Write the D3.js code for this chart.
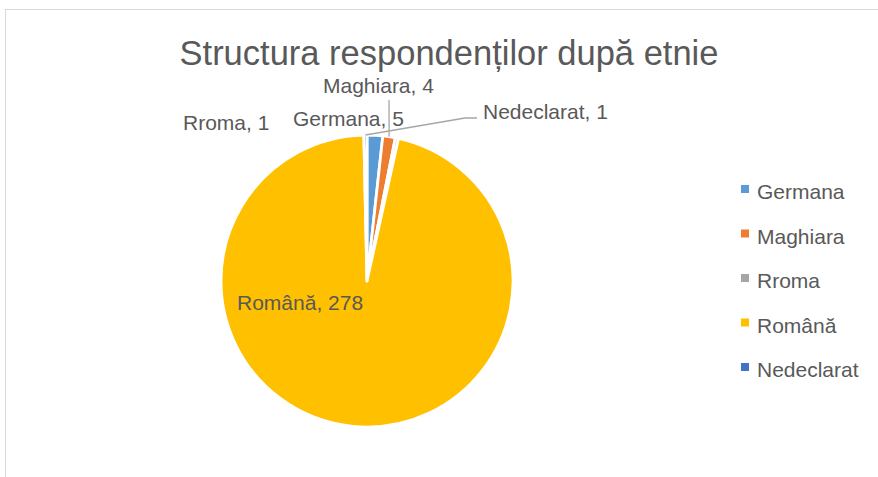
<!DOCTYPE html>
<html>
<head>
<meta charset="utf-8">
<script src="https://cdn.jsdelivr.net/npm/d3@7"></script>
<style>
  body { margin: 0; background: #fff; }
  text { font-family: "Liberation Sans", Arial, sans-serif; fill: #595959; }
</style>
</head>
<body>
<svg id="chart" width="878" height="477"></svg>
<script>
// chart data
var categories = ["Germana", "Maghiara", "Rroma", "Română", "Nedeclarat"];
var values = [5, 4, 1, 278, 1];
var colors = ["#5b9bd5", "#ed7d31", "#a5a5a5", "#ffc000", "#4472c4"];
var chartTitle = "Structura respondenților după etnie";

var width = 878;
var height = 477;
var cx = 367;
var cy = 281;
var radius = 146;

// where Excel put each data label (start x, baseline y), and leader line anchors
var labelPos = [
    {x: 293, y: 126, leader: null},
    {x: 323, y: 93, leader: [[389, 100]]},
    {x: 183, y: 130, leader: null},
    {x: 237, y: 310, leader: null},
    {x: 483, y: 119, leader: [[477, 118], [465, 118]]}
];

var svg = d3.select("#chart");

svg.append("rect")
    .attr("width", width)
    .attr("height", height)
    .attr("fill", "#fff");

// chart area border (runs off the right and bottom of the picture)
svg.append("rect")
    .attr("x", 5.5)
    .attr("y", 9.5)
    .attr("width", 1000)
    .attr("height", 1000)
    .attr("fill", "none")
    .attr("stroke", "#d9d9d9")
    .attr("stroke-width", 1);

svg.append("text")
    .attr("x", 449)
    .attr("y", 65)
    .attr("text-anchor", "middle")
    .style("font-size", "34.5px")
    .text(chartTitle);

var pie = d3.pie().sort(null).value(function(d) { return d; });
var arcs = pie(values);
var arc = d3.arc().innerRadius(0).outerRadius(radius);

var pieGroup = svg.append("g")
    .attr("transform", "translate(" + cx + "," + cy + ")");

pieGroup.selectAll("path")
    .data(arcs)
    .enter()
    .append("path")
    .attr("d", arc)
    .attr("fill", function(d, i) { return colors[i]; })
    .attr("stroke", "#fff")
    .attr("stroke-width", 2.8)
    .attr("stroke-linejoin", "round");

// leader lines from label to the outer edge of the slice
for (var i = 0; i < arcs.length; i++) {
    var lp = labelPos[i];
    if (!lp.leader) continue;
    var mid = (arcs[i].startAngle + arcs[i].endAngle) / 2;
    var edge = [cx + radius * Math.sin(mid), cy - radius * Math.cos(mid)];
    var pts = lp.leader.concat([edge]);
    svg.append("path")
        .attr("d", d3.line()(pts))
        .attr("fill", "none")
        .attr("stroke", "#a6a6a6")
        .attr("stroke-width", 1.3);
}

svg.selectAll("text.data-label")
    .data(arcs)
    .enter()
    .append("text")
    .attr("class", "data-label")
    .attr("x", function(d, i) { return labelPos[i].x; })
    .attr("y", function(d, i) { return labelPos[i].y; })
    .style("font-size", "21px")
    .text(function(d, i) { return categories[i] + ", " + d.data; });

// legend
var legendY = d3.scalePoint()
    .domain(categories)
    .range([199, 377]);

var legend = svg.append("g").selectAll("g")
    .data(categories)
    .enter()
    .append("g")
    .attr("transform", function(d) { return "translate(741," + legendY(d) + ")"; });

legend.append("rect")
    .attr("x", 0)
    .attr("y", -14)
    .attr("width", 8)
    .attr("height", 8)
    .attr("fill", function(d, i) { return colors[i]; });

legend.append("text")
    .attr("x", 16)
    .attr("y", 0)
    .style("font-size", "21px")
    .text(function(d) { return d; });
</script>
</body>
</html>
